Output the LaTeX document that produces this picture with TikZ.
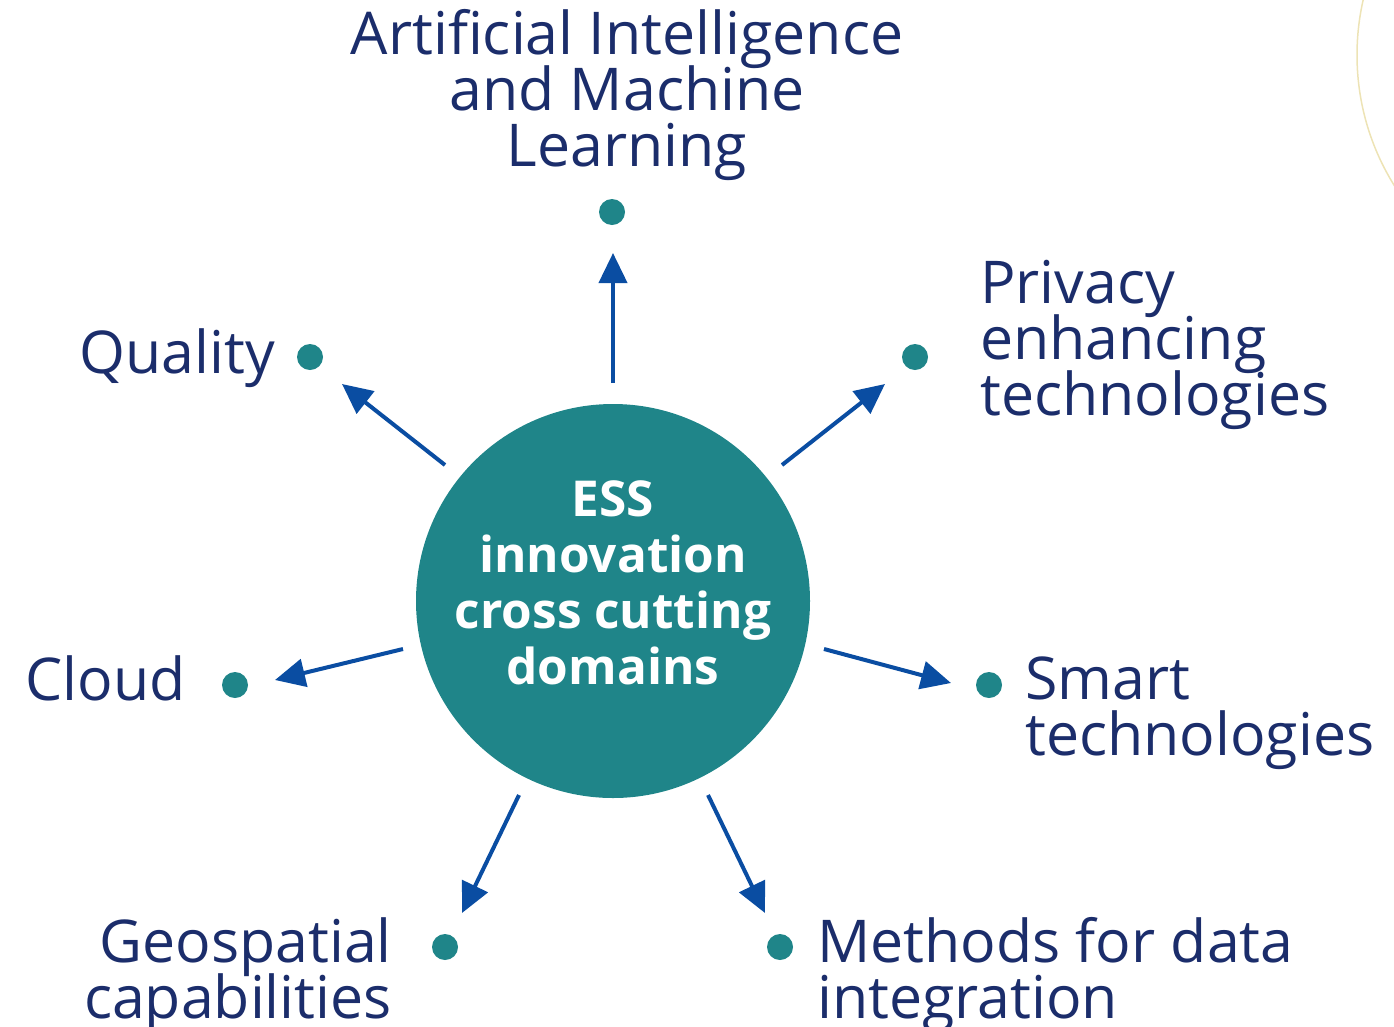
\documentclass[tikz,border=0pt]{standalone}
\usepackage{fontspec}
\setmainfont{Open Sans}
\usetikzlibrary{arrows.meta}
\definecolor{navy}{HTML}{1B2D6B}
\definecolor{teal}{HTML}{1F8589}
\definecolor{arrowblue}{HTML}{0A4DA2}
\definecolor{arcyellow}{HTML}{EDE3B5}
\newcommand{\tightlines}{\lineskiplimit-200pt\relax\lineskip0pt\relax}
\tikzset{
  lbl/.style={text=navy, inner sep=0pt, font={\fontsize{59}{56}\selectfont\tightlines}},
  dotnode/.style={circle, fill=teal, minimum size=26pt, inner sep=0pt},
  hubnode/.style={circle, fill=teal, minimum size=394pt, inner sep=0pt},
  hubtext/.style={text=white, inner sep=0pt, align=center, font={\bfseries\fontsize{49.5}{56}\selectfont\tightlines}},
  conn/.style={draw=arrowblue, line width=4pt, -{Triangle[length=30pt,width=28pt]}}
}
\begin{document}
\begin{tikzpicture}[x=1pt,y=-1pt]
\useasboundingbox (0,0) rectangle (1394,1026);
\draw[arcyellow, line width=1.5pt] (1604,55) circle (247);
\node[hubnode] (hub) at (613,601) {};
\node[hubtext, anchor=base] (hubt) at (613,684) {ESS\\innovation\\cross cutting\\domains};
% dots
\node[dotnode] (dai) at (612,212) {};
\node[dotnode] (dq) at (310,357) {};
\node[dotnode] (dp) at (915,357) {};
\node[dotnode] (dc) at (235,685) {};
\node[dotnode] (ds) at (989,685) {};
\node[dotnode] (dg) at (445,947) {};
\node[dotnode] (dm) at (780,947) {};
% arrow endpoints
\coordinate (a0) at (613,383); \coordinate (a1) at (613,253);
\coordinate (b0) at (445,465); \coordinate (b1) at (342,384);
\coordinate (c0) at (782,465); \coordinate (c1) at (885,384);
\coordinate (d0) at (403,649); \coordinate (d1) at (275,680);
\coordinate (e0) at (824,649); \coordinate (e1) at (951,683);
\coordinate (f0) at (519,795); \coordinate (f1) at (462,913);
\coordinate (g0) at (708,795); \coordinate (g1) at (765,913);
\draw[conn] (a0) -- (a1);
\draw[conn] (b0) -- (b1);
\draw[conn] (c0) -- (c1);
\draw[conn] (d0) -- (d1);
\draw[conn] (e0) -- (e1);
\draw[conn] (f0) -- (f1);
\draw[conn] (g0) -- (g1);
% labels
\node[lbl, align=center, anchor=base] (lai) at (627,166) {Artificial Intelligence\\and Machine\\Learning};
\node[lbl, anchor=base east] (lq) at (275,373) {Quality};
\node[lbl, align=left, anchor=base west] (lp) at (980,415) {Privacy\\enhancing\\technologies};
\node[lbl, anchor=base east] (lc) at (186,700) {Cloud};
\node[lbl, align=left, anchor=base west] (ls) at (1025,755) {Smart\\technologies};
\node[lbl, align=right, anchor=base east] (lg) at (392,1018) {Geospatial\\capabilities};
\node[lbl, align=left, anchor=base west] (lm) at (817,1018) {Methods for data\\integration};
\end{tikzpicture}
\end{document}
